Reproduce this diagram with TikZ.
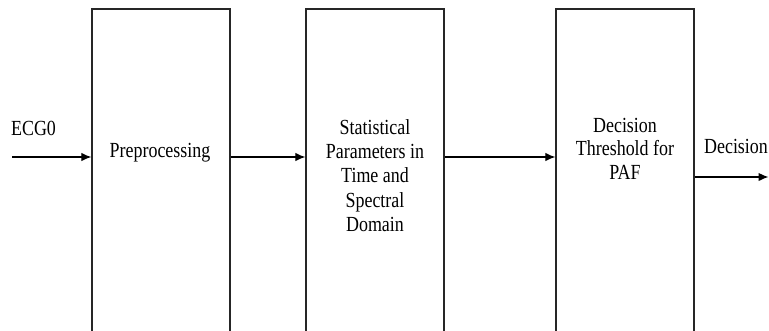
\documentclass[tikz,border=0pt]{standalone}
\usepackage{fontspec}
\setmainfont{Liberation Serif}
\usetikzlibrary{arrows.meta}
\newcommand{\tallbox}[1]{\scalebox{1}[1.2]{\begin{tabular}{@{}c@{}}#1\end{tabular}}}
\tikzset{
  block/.style={draw=black!85, line width=1.3bp, minimum width=138bp, minimum height=340bp, inner sep=0pt},
  lbl/.style={inner sep=0pt, font=\fontsize{18}{19.6}\selectfont},
  arr/.style={line width=1.2bp, -{Latex[length=10bp,width=8.5bp]}}
}
\begin{document}
\begin{tikzpicture}[x=1bp,y=-1bp]
			%%%%% START %%%%%
			\useasboundingbox (0,0) rectangle (769,330);
			\clip (0,0) rectangle (769,330);
			
			\node[block] (pre) at (161,179) {};
			\node[block] (stat) at (375,179) {};
			\node[block] (dec) at (625,179) {};
			
			\node[lbl] (pretxt) at (160,153) {\tallbox{Preprocessing}};
			\node[lbl, font=\fontsize{18}{20.4}\selectfont] (stattxt) at (375,178) {\tallbox{Statistical\\Parameters in\\Time and\\Spectral\\Domain}};
			\node[lbl] (dectxt) at (625,151) {\tallbox{Decision\\Threshold for\\PAF}};
			
			\node[lbl] (ecg) at (33.5,131) {\tallbox{ECG0}};
			\node[lbl] (outtxt) at (736,149) {\tallbox{Decision}};
			
			\coordinate (in) at (12,157);
			\coordinate (out) at (768.5,177);
			\draw[arr] (in) -- (in -| pre.west);
			\draw[arr] (pre.east |- in) -- (stat.west |- in);
			\draw[arr] (stat.east |- in) -- (dec.west |- in);
			\draw[arr] (dec.east |- out) -- (out);
			
			%%%%% END %%%%%
\end{tikzpicture}
\end{document}
